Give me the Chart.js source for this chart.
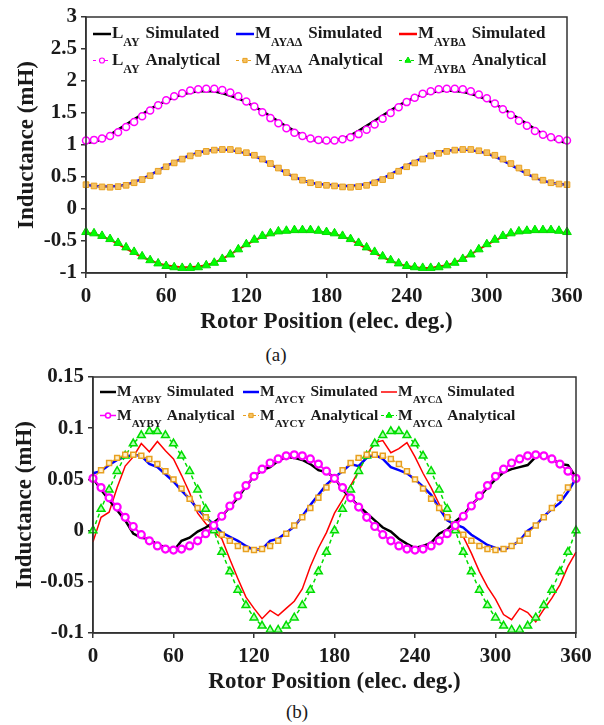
<!DOCTYPE html>
<html>
<head>
<meta charset="utf-8">
<script src="https://cdn.jsdelivr.net/npm/chart.js@4.4.1/dist/chart.umd.min.js"></script>
<style>
  html, body { margin: 0; padding: 0; background: #fff; }
  body { width: 604px; height: 725px; position: relative; overflow: hidden; }
  .box { position: absolute; left: 0; width: 604px; height: 340px; }
  .cap { position: absolute; font: 19px 'Liberation Serif', 'Times New Roman', serif; color: #1a1a1a;
         transform: translate(-50%, -50%); white-space: nowrap; }
</style>
</head>
<body>
<div class="box" style="top:0px"><canvas id="chartA"></canvas></div>
<div class="cap" style="left:276px; top:355px">(a)</div>
<div class="box" style="top:360px"><canvas id="chartB"></canvas></div>
<div class="cap" style="left:297px; top:712px">(b)</div>
<script>
const FONT = "'Liberation Serif', 'Times New Roman', serif";

// rotor position, elec. deg.
const angles = [0, 6, 12, 18, 24, 30, 36, 42, 48, 54,
  60, 66, 72, 78, 84, 90, 96, 102, 108, 114,
  120, 126, 132, 138, 144, 150, 156, 162, 168, 174,
  180, 186, 192, 198, 204, 210, 216, 222, 228, 234,
  240, 246, 252, 258, 264, 270, 276, 282, 288, 294,
  300, 306, 312, 318, 324, 330, 336, 342, 348, 354,
  360];
const xTicks = [0, 60, 120, 180, 240, 300, 360];

// (a) self and mutual inductances, mH
const lAySim = [1.03, 1.05, 1.09, 1.16, 1.24, 1.32, 1.40, 1.48, 1.56, 1.63,
  1.69, 1.75, 1.79, 1.82, 1.84, 1.845, 1.84, 1.81, 1.77, 1.73,
  1.67, 1.60, 1.53, 1.45, 1.37, 1.29, 1.22, 1.15, 1.09, 1.06,
  1.06, 1.07, 1.10, 1.15, 1.22, 1.30, 1.38, 1.46, 1.54, 1.62,
  1.68, 1.74, 1.79, 1.82, 1.84, 1.85, 1.845, 1.83, 1.80, 1.76,
  1.71, 1.64, 1.57, 1.49, 1.41, 1.33, 1.25, 1.17, 1.11, 1.06,
  1.03];
const lAyAna = [1.07, 1.08, 1.10, 1.14, 1.20, 1.28, 1.36, 1.45, 1.54, 1.62,
  1.70, 1.76, 1.81, 1.85, 1.87, 1.88, 1.88, 1.86, 1.82, 1.76,
  1.68, 1.60, 1.51, 1.42, 1.34, 1.26, 1.19, 1.14, 1.10, 1.08,
  1.07, 1.07, 1.09, 1.12, 1.17, 1.24, 1.32, 1.41, 1.50, 1.59,
  1.67, 1.74, 1.80, 1.84, 1.87, 1.88, 1.88, 1.87, 1.84, 1.79,
  1.73, 1.65, 1.56, 1.47, 1.38, 1.30, 1.22, 1.16, 1.12, 1.09,
  1.07];
const mAyaSim = [0.38, 0.36, 0.35, 0.35, 0.36, 0.38, 0.42, 0.47, 0.53, 0.60,
  0.67, 0.73, 0.79, 0.84, 0.88, 0.91, 0.92, 0.93, 0.92, 0.90,
  0.87, 0.83, 0.77, 0.70, 0.63, 0.56, 0.50, 0.45, 0.41, 0.39,
  0.38, 0.37, 0.36, 0.36, 0.37, 0.39, 0.43, 0.48, 0.54, 0.61,
  0.68, 0.74, 0.80, 0.85, 0.89, 0.91, 0.92, 0.93, 0.92, 0.90,
  0.87, 0.82, 0.76, 0.69, 0.62, 0.55, 0.49, 0.44, 0.41, 0.39,
  0.38];
const mAyaAna = [0.38, 0.36, 0.345, 0.34, 0.35, 0.37, 0.41, 0.46, 0.52, 0.59,
  0.66, 0.72, 0.78, 0.83, 0.87, 0.90, 0.92, 0.93, 0.93, 0.91,
  0.88, 0.84, 0.78, 0.71, 0.64, 0.57, 0.50, 0.45, 0.41, 0.38,
  0.37, 0.36, 0.345, 0.34, 0.35, 0.37, 0.41, 0.46, 0.52, 0.59,
  0.66, 0.72, 0.78, 0.83, 0.87, 0.90, 0.92, 0.93, 0.93, 0.91,
  0.88, 0.84, 0.78, 0.71, 0.64, 0.57, 0.50, 0.45, 0.41, 0.39,
  0.38];
const mAybSim = [-0.37, -0.39, -0.43, -0.48, -0.55, -0.62, -0.69, -0.75, -0.80, -0.85,
  -0.88, -0.90, -0.91, -0.91, -0.90, -0.88, -0.84, -0.78, -0.71, -0.63,
  -0.56, -0.49, -0.44, -0.40, -0.37, -0.36, -0.35, -0.35, -0.35, -0.36,
  -0.37, -0.39, -0.43, -0.48, -0.55, -0.62, -0.69, -0.75, -0.81, -0.86,
  -0.89, -0.91, -0.92, -0.92, -0.90, -0.88, -0.84, -0.78, -0.71, -0.63,
  -0.56, -0.49, -0.44, -0.40, -0.37, -0.36, -0.35, -0.35, -0.35, -0.36,
  -0.38];
const mAybAna = [-0.36, -0.38, -0.42, -0.47, -0.53, -0.60, -0.67, -0.74, -0.80, -0.85,
  -0.89, -0.91, -0.92, -0.92, -0.91, -0.88, -0.84, -0.78, -0.71, -0.63,
  -0.55, -0.48, -0.42, -0.38, -0.35, -0.34, -0.33, -0.33, -0.33, -0.34,
  -0.36, -0.38, -0.42, -0.47, -0.53, -0.60, -0.67, -0.74, -0.80, -0.85,
  -0.89, -0.91, -0.92, -0.92, -0.91, -0.88, -0.84, -0.78, -0.71, -0.63,
  -0.55, -0.48, -0.42, -0.38, -0.35, -0.34, -0.33, -0.33, -0.33, -0.34,
  -0.36];

// (b) mutual inductances to the other winding sets, mH
const mAybySim = [0.051, 0.040, 0.030, 0.020, 0.010, -0.003, -0.007, -0.008, -0.014, -0.016,
  -0.020, -0.010, -0.007, -0.001, 0.003, 0.008, 0.014, 0.023, 0.032, 0.043,
  0.053, 0.059, 0.062, 0.068, 0.072, 0.071, 0.069, 0.065, 0.059, 0.057,
  0.052, 0.040, 0.032, 0.024, 0.017, 0.010, 0.003, -0.001, -0.008, -0.013,
  -0.017, -0.015, -0.012, -0.003, 0.001, 0.009, 0.015, 0.025, 0.033, 0.042,
  0.050, 0.057, 0.060, 0.062, 0.064, 0.072, 0.074, 0.070, 0.065, 0.064,
  0.052];
const mAybyAna = [0.051, 0.042, 0.032, 0.023, 0.013, 0.004, -0.004, -0.010, -0.015, -0.018,
  -0.019, -0.018, -0.015, -0.010, -0.003, 0.005, 0.014, 0.024, 0.034, 0.044,
  0.053, 0.060, 0.066, 0.070, 0.073, 0.074, 0.073, 0.070, 0.065, 0.058,
  0.051, 0.042, 0.032, 0.023, 0.013, 0.004, -0.004, -0.010, -0.015, -0.018,
  -0.019, -0.018, -0.015, -0.010, -0.003, 0.005, 0.014, 0.024, 0.034, 0.044,
  0.053, 0.060, 0.066, 0.070, 0.073, 0.074, 0.073, 0.070, 0.065, 0.058,
  0.051];
const mAycySim = [0.056, 0.058, 0.064, 0.069, 0.072, 0.074, 0.073, 0.065, 0.062, 0.055,
  0.048, 0.039, 0.031, 0.021, 0.013, 0.006, -0.002, -0.006, -0.010, -0.015,
  -0.019, -0.018, -0.010, -0.008, -0.002, 0.004, 0.014, 0.025, 0.035, 0.045,
  0.052, 0.058, 0.065, 0.063, 0.071, 0.074, 0.070, 0.062, 0.059, 0.056,
  0.050, 0.043, 0.035, 0.022, 0.010, 0.006, 0.003, -0.004, -0.009, -0.014,
  -0.017, -0.019, -0.015, -0.010, 0.000, 0.005, 0.014, 0.021, 0.027, 0.038,
  0.051];
const mAycyAna = [0.051, 0.059, 0.066, 0.071, 0.074, 0.074, 0.073, 0.070, 0.065, 0.058,
  0.050, 0.041, 0.031, 0.022, 0.013, 0.004, -0.004, -0.010, -0.015, -0.018,
  -0.019, -0.018, -0.015, -0.010, -0.003, 0.005, 0.013, 0.022, 0.032, 0.042,
  0.051, 0.059, 0.066, 0.071, 0.074, 0.074, 0.073, 0.070, 0.065, 0.058,
  0.050, 0.041, 0.031, 0.022, 0.013, 0.004, -0.004, -0.010, -0.015, -0.018,
  -0.019, -0.018, -0.015, -0.010, -0.003, 0.005, 0.013, 0.022, 0.032, 0.042,
  0.051];
const mAycdSim = [-0.011, 0.013, 0.018, 0.042, 0.063, 0.072, 0.085, 0.077, 0.087, 0.078,
  0.070, 0.054, 0.037, 0.017, 0.007, -0.001, -0.008, -0.028, -0.047, -0.065,
  -0.076, -0.086, -0.078, -0.083, -0.076, -0.069, -0.057, -0.035, -0.017, -0.002,
  0.017, 0.030, 0.044, 0.058, 0.074, 0.086, 0.088, 0.076, 0.080, 0.086,
  0.072, 0.056, 0.042, 0.026, 0.010, 0.004, -0.006, -0.022, -0.040, -0.055,
  -0.067, -0.082, -0.087, -0.076, -0.080, -0.089, -0.077, -0.066, -0.053, -0.035,
  -0.021];
const mAycdAna = [0.000, 0.021, 0.040, 0.058, 0.073, 0.085, 0.093, 0.097, 0.097, 0.093,
  0.085, 0.073, 0.058, 0.040, 0.021, 0.000, -0.021, -0.040, -0.058, -0.073,
  -0.085, -0.093, -0.097, -0.097, -0.093, -0.085, -0.073, -0.058, -0.040, -0.021,
  0.000, 0.021, 0.040, 0.058, 0.073, 0.085, 0.093, 0.097, 0.097, 0.093,
  0.085, 0.073, 0.058, 0.040, 0.021, 0.000, -0.021, -0.040, -0.058, -0.073,
  -0.085, -0.093, -0.097, -0.097, -0.093, -0.085, -0.073, -0.058, -0.040, -0.021,
  0.000];

// legend names: main letter + subscript
const namesA = [["L", "AY"], ["M", "AYA\u0394"], ["M", "AYB\u0394"]];
const namesB = [["M", "AYBY"], ["M", "AYCY"], ["M", "AYC\u0394"]];
const kinds = ["Simulated", "Analytical"];

const pts = (vals) => angles.map((a, i) => ({ x: a, y: vals[i] }));

// draws the plot frame and the two-row legend with subscripts
const frameLegend = {
  id: "frameLegend",
  afterDatasetsDraw(chart, args, opts) {
    const ctx = chart.ctx, a = chart.chartArea;
    ctx.save();
    ctx.strokeStyle = "#333";
    ctx.lineWidth = 1.5;
    ctx.strokeRect(a.left, a.top, a.right - a.left, a.bottom - a.top);
    ctx.textAlign = "left";
    ctx.textBaseline = "alphabetic";
    opts.items.forEach((it) => {
      const x0 = a.left + opts.cols[it.col];
      const y = a.top + opts.rows[it.row];
      const ly = y - 4;
      ctx.strokeStyle = it.color;
      ctx.lineWidth = it.lw;
      ctx.setLineDash(it.dash || []);
      ctx.beginPath();
      ctx.moveTo(x0, ly);
      ctx.lineTo(x0 + opts.sampleW, ly);
      ctx.stroke();
      ctx.setLineDash([]);
      if (it.style) {
        ctx.fillStyle = it.bg;
        ctx.strokeStyle = it.color;
        ctx.lineWidth = it.bw;
        Chart.helpers.drawPoint(ctx, { pointStyle: it.style, radius: it.r, rotation: 0, borderWidth: it.bw }, x0 + opts.sampleW / 2, ly);
      }
      let tx = x0 + opts.sampleW + 1;
      ctx.fillStyle = "#1a1a1a";
      ctx.font = "bold " + opts.size + "px " + FONT;
      ctx.fillText(it.name[0], tx, y);
      tx += ctx.measureText(it.name[0]).width;
      ctx.font = "bold " + opts.subSize + "px " + FONT;
      ctx.fillText(it.name[1], tx, y + opts.subDrop);
      tx += ctx.measureText(it.name[1]).width + opts.gap;
      ctx.font = "bold " + opts.size + "px " + FONT;
      ctx.fillText(it.kind, tx, y);
    });
    ctx.restore();
  }
};

Chart.defaults.font.family = FONT;
Chart.defaults.font.weight = "bold";
Chart.defaults.color = "#1a1a1a";

function axes(yMin, yMax, yStep, yWidth, yTitlePad, fmt) {
  return {
    x: {
      type: "linear", min: 0, max: 360,
      afterBuildTicks: (s) => { s.ticks = xTicks.map((v) => ({ value: v })); },
      afterFit: (s) => { s.height = 67; },
      ticks: { font: { size: 21 }, padding: 6 },
      grid: { drawOnChartArea: false, tickLength: 5, color: "#333", lineWidth: 1.5 },
      border: { color: "#333", width: 1.5 },
      title: { display: true, text: "Rotor Position (elec. deg.)", font: { size: 23 }, padding: { top: 0, bottom: 4 } }
    },
    y: {
      min: yMin, max: yMax,
      afterFit: (s) => { s.width = yWidth; },
      ticks: { stepSize: yStep, font: { size: 21 }, padding: 4, callback: fmt },
      grid: { drawOnChartArea: false, tickLength: 5, color: "#333", lineWidth: 1.5 },
      border: { color: "#333", width: 1.5 },
      title: { display: true, text: "Inductance (mH)", font: { size: 23 }, padding: { top: yTitlePad, bottom: 0 } }
    }
  };
}

function simSet(vals, color, width) {
  return { data: pts(vals), borderColor: color, borderWidth: width, pointRadius: 0, tension: 0, order: 2, clip: false };
}
function anaSet(vals, color, width, dash, style, r, bg, bw) {
  return { data: pts(vals), borderColor: color, borderWidth: width, borderDash: dash, tension: 0, order: 1, clip: false,
    pointStyle: style, pointRadius: r, pointBackgroundColor: bg, pointBorderColor: color, pointBorderWidth: bw };
}

// (a)
new Chart(document.getElementById("chartA"), {
  type: "line",
  data: {
    datasets: [
      simSet(lAySim, "#000000", 2.5),
      simSet(mAyaSim, "#0000ff", 2.5),
      simSet(mAybSim, "#ff0000", 2),
      anaSet(lAyAna, "#ff00ff", 1, [3, 3], "circle", 3.5, "#ffffff", 1.5),
      anaSet(mAyaAna, "#e8a020", 1, [3, 3], "rect", 4, "#f5c060", 1),
      anaSet(mAybAna, "#00dd00", 1, [3, 3], "triangle", 5, "#00ff00", 1)
    ]
  },
  options: {
    responsive: true, maintainAspectRatio: false, animation: false,
    layout: { padding: { left: 0, right: 37, top: 17, bottom: 0 } },
    scales: axes(-1, 3, 0.5, 86, 13, (v) => String(v)),
    plugins: {
      legend: { display: false }, tooltip: { enabled: false },
      frameLegend: {
        size: 17, subSize: 12, subDrop: 8, gap: 6, sampleW: 18,
        cols: [7, 150, 313], rows: [21, 47.5],
        items: [
          { col: 0, row: 0, name: namesA[0], kind: kinds[0], color: "#000000", lw: 2.5 },
          { col: 1, row: 0, name: namesA[1], kind: kinds[0], color: "#0000ff", lw: 2.5 },
          { col: 2, row: 0, name: namesA[2], kind: kinds[0], color: "#ff0000", lw: 2.5 },
          { col: 0, row: 1, name: namesA[0], kind: kinds[1], color: "#ff00ff", lw: 1, dash: [3, 3], style: "circle", r: 2.5, bg: "#ffffff", bw: 1.2 },
          { col: 1, row: 1, name: namesA[1], kind: kinds[1], color: "#e8a020", lw: 1, dash: [3, 3], style: "rect", r: 3, bg: "#f5c060", bw: 1 },
          { col: 2, row: 1, name: namesA[2], kind: kinds[1], color: "#00dd00", lw: 1, dash: [3, 3], style: "triangle", r: 3.5, bg: "#00ff00", bw: 1 }
        ]
      }
    }
  },
  plugins: [frameLegend]
});

// (b)
new Chart(document.getElementById("chartB"), {
  type: "line",
  data: {
    datasets: [
      simSet(mAybySim, "#000000", 2.5),
      simSet(mAycySim, "#0000ff", 2.5),
      simSet(mAycdSim, "#ff0000", 1.5),
      anaSet(mAybyAna, "#ff00ff", 2, [], "circle", 3.5, "#ffffff", 2.2),
      anaSet(mAycyAna, "#e8a020", 1.2, [3, 2], "rect", 3.5, "#fff0cc", 1.5),
      anaSet(mAycdAna, "#00dd00", 1.5, [4, 3], "triangle", 4.5, "#b0ffb0", 1.5)
    ]
  },
  options: {
    responsive: true, maintainAspectRatio: false, animation: false,
    layout: { padding: { left: 0, right: 28, top: 17, bottom: 0 } },
    scales: axes(-0.1, 0.15, 0.05, 93, 11, (v) => String(+v.toFixed(2))),
    plugins: {
      legend: { display: false }, tooltip: { enabled: false },
      frameLegend: {
        size: 15.5, subSize: 11, subDrop: 7, gap: 5, sampleW: 16,
        cols: [7, 150, 288], rows: [19, 42.5],
        items: [
          { col: 0, row: 0, name: namesB[0], kind: kinds[0], color: "#000000", lw: 2.5 },
          { col: 1, row: 0, name: namesB[1], kind: kinds[0], color: "#0000ff", lw: 2.5 },
          { col: 2, row: 0, name: namesB[2], kind: kinds[0], color: "#ff0000", lw: 1.5 },
          { col: 0, row: 1, name: namesB[0], kind: kinds[1], color: "#ff00ff", lw: 1.5, style: "circle", r: 2.5, bg: "#ffffff", bw: 1.5 },
          { col: 1, row: 1, name: namesB[1], kind: kinds[1], color: "#e8a020", lw: 1, dash: [3, 2], style: "rect", r: 3, bg: "#f5c060", bw: 1 },
          { col: 2, row: 1, name: namesB[2], kind: kinds[1], color: "#00dd00", lw: 1, dash: [3, 2], style: "triangle", r: 3.5, bg: "#00ff00", bw: 1 }
        ]
      }
    }
  },
  plugins: [frameLegend]
});
</script>
</body>
</html>
